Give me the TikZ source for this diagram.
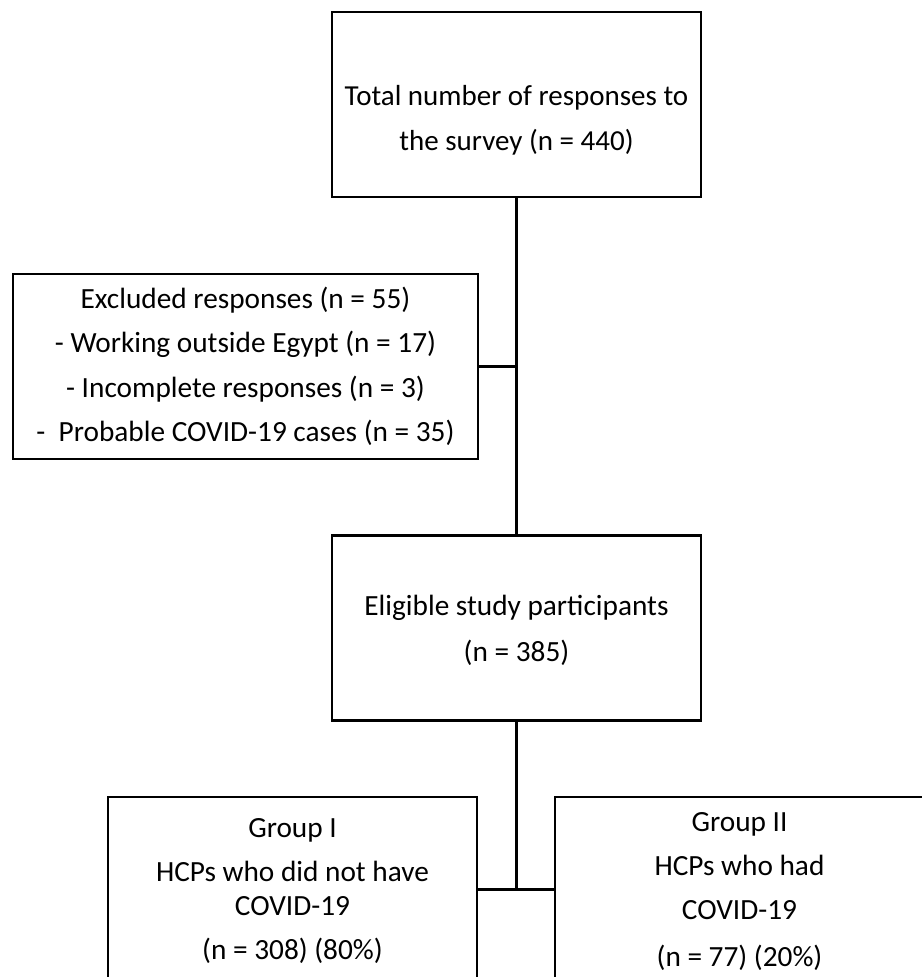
\documentclass[tikz,border=0pt]{standalone}
\usepackage{fontspec}
\setmainfont{Carlito}
\begin{document}
\begin{tikzpicture}[x=1bp,y=-1bp,
  box/.style={draw, line width=2.5bp, minimum width=369bp, minimum height=185bp, inner sep=0pt},
  txt/.style={align=center, font=\fontsize{29.3bp}{44bp}\selectfont, inner sep=0pt},
  conn/.style={line width=2.5bp}]
\clip (0,0) rectangle (922,977);
\fill[white] (0,0) rectangle (922,977);
% boxes
\node[box] (total) at (516.5,104.5) {};
\node[box, minimum width=465bp] (excl) at (245.5,366.5) {};
\node[box] (elig) at (516.5,628) {};
\node[box] (g1) at (292.5,889.5) {};
\node[box] (g2) at (739.5,889.5) {};
% texts
\node[txt, font=\fontsize{29bp}{44.5bp}\selectfont] (totaltxt) at ([yshift=-16bp]total.center) {Total number of responses to\\the survey (n = 440)};
\node[txt] (excltxt) at ([yshift=0bp]excl.center) {Excluded responses (n = 55)\\[0.5bp]- Working outside Egypt (n = 17)\\[0.5bp]- Incomplete responses (n = 3)\\[0.5bp]-\ \ Probable COVID-19 cases (n = 35)};
\node[txt] (eligtxt) at ([yshift=-2bp]elig.center) {Eligible study participants\\[2bp](n = 385)};
\node[txt] (g1txt) at ([yshift=-2bp]g1.center) {Group I\\HCPs who did not have\\[-10bp]COVID-19\\(n = 308) (80\%)};
\node[txt] (g2txt) at ([yshift=-2.5bp]g2.center) {Group II\\HCPs who had\\COVID-19\\[3bp](n = 77) (20\%)};
% connectors
\draw[conn] (total.south) -- (elig.north);
\coordinate (j1) at (total.south |- excl.east);
\draw[conn] (excl.east) -- (j1);
\coordinate (j2) at (elig.south |- g1.east);
\draw[conn] (elig.south) -- (j2);
\draw[conn] (g1.east) -- (g2.west);
\end{tikzpicture}
\end{document}
